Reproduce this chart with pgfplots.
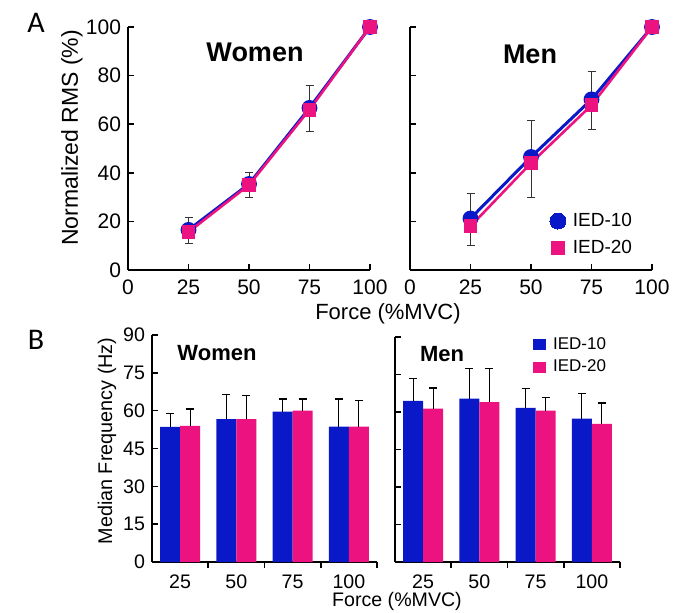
\documentclass[border=0pt]{standalone}
\usepackage{fontspec}
\setmainfont{Liberation Sans}
\newfontfamily\panelfont{Carlito}
\usepackage{pgfplots}
\pgfplotsset{compat=1.18}
\definecolor{iedblue}{RGB}{10,25,200}
\definecolor{iedpink}{RGB}{236,18,128}

\pgfplotsset{
  panel/.style={scale only axis, anchor=south west, axis lines=left,
    axis line style={-, line width=0.8pt}, tick style={black, line width=0.8pt},
    major tick length=3pt, minor tick length=3pt, tick align=inside,
    /pgf/number format/assume math mode=true, clip=false},
  ebar/.style={draw=none, mark=none, forget plot,
    error bars/.cd, y dir=both, y explicit,
    error bar style={line width=0.5pt, black!80},
    error mark options={rotate=90, mark size=2pt, line width=0.5pt, black!80}},
  bluel/.style={iedblue, line width=1.5pt, mark=*, mark size=3.2pt},
  pinkl/.style={iedpink, line width=1.3pt, mark=square*, mark size=2.8pt},
  barerr/.style={error bars/.cd, y dir=plus, y explicit,
    error bar style={line width=0.6pt, black},
    error mark options={rotate=90, mark size=2pt, line width=0.6pt, black}},
}

\begin{document}
\begin{tikzpicture}
\useasboundingbox (0pt,0pt) rectangle (343pt,306pt);

% ---- A: women
\begin{axis}[panel, at={(64pt,171pt)}, width=121pt, height=121.5pt,
  xmin=0, xmax=100, ymin=0, ymax=100,
  xtick={0,25,50,75,100}, ytick={0,20,...,100},
  xticklabel style={yshift=-1.5pt},
  tick label style={font=\fontsize{10.5}{12}\selectfont}]
\addplot[ebar] coordinates {(25,16.2) +- (0,5.2) (50,35) +- (0,5.3) (75,66.5) +- (0,9.5)};
\addplot[bluel] coordinates {(25,16.5) (50,35.4) (75,66.7) (100,100)};
\addplot[pinkl] coordinates {(25,15.6) (50,35) (75,66) (100,100)};
\end{axis}

% ---- A: men
\begin{axis}[panel, at={(205pt,171pt)}, width=121pt, height=121.5pt,
  xmin=0, xmax=100, ymin=0, ymax=100,
  xtick={0,25,50,75,100}, ytick={0,20,...,100}, yticklabels={},
  xticklabel style={yshift=-1.5pt},
  tick label style={font=\fontsize{10.5}{12}\selectfont},
  legend style={draw=none, fill=none, at={(0.575,0.245)}, anchor=north west,
    font=\fontsize{9.5}{11}\selectfont, row sep=3.5pt, inner sep=0pt,
    nodes={inner sep=1pt}},
  legend cell align=left,
  legend image code/.code={\draw[#1, line width=0pt] plot coordinates {(0.14cm,0cm)};
    \path (0cm,0cm) (0.36cm,0cm);}]
\addplot[ebar] coordinates {(25,20.8) +- (0,10.6) (50,45.7) +- (0,15.9) (75,69.8) +- (0,11.8)};
\addplot[bluel, forget plot] coordinates {(25,21.2) (50,46.5) (75,70.2) (100,100)};
\addplot[pinkl, forget plot] coordinates {(25,18) (50,44) (75,67.8) (100,100)};
\addlegendimage{iedblue, mark=*, mark size=4pt}
\addlegendentry{IED-10}
\addlegendimage{iedpink, mark=square*, mark size=3.2pt}
\addlegendentry{IED-20}
\end{axis}

% ---- B: women
\begin{axis}[panel, at={(76pt,25pt)}, width=112.5pt, height=113.5pt,
  xmin=0.5, xmax=4.5, ymin=0, ymax=90,
  ytick={0,15,...,90}, xtick={1,2,3,4}, xticklabels={25,50,75,100},
  major x tick style={draw=none}, minor xtick={1.5,2.5,3.5,4.5},
  ybar=0pt, bar width=10pt,
  tick label style={font=\fontsize{9.8}{11}\selectfont}]
\addplot[fill=iedblue, draw=none, barerr] coordinates {
  (1,53.6) +- (0,5.4) (2,56.7) +- (0,9.6) (3,59.6) +- (0,5.0) (4,53.7) +- (0,10.9)};
\addplot[fill=iedpink, draw=none, barerr] coordinates {
  (1,54.0) +- (0,6.7) (2,56.7) +- (0,9.2) (3,60.0) +- (0,4.6) (4,53.7) +- (0,10.3)};
\end{axis}

% ---- B: men
\begin{axis}[panel, at={(197.5pt,25pt)}, width=112.5pt, height=112.5pt,
  xmin=0.5, xmax=4.5, ymin=0, ymax=90,
  ytick={0,15,...,90}, yticklabels={}, xtick={1,2,3,4}, xticklabels={25,50,75,100},
  major x tick style={draw=none}, minor xtick={1.5,2.5,3.5,4.5},
  ybar=0pt, bar width=10pt,
  tick label style={font=\fontsize{9.8}{11}\selectfont},
  legend style={draw=none, fill=none, at={(0.612,1.01)}, anchor=north west,
    font=\fontsize{8.5}{10}\selectfont, row sep=2pt, inner sep=0pt,
    nodes={inner sep=1pt}},
  legend cell align=left,
  legend image code/.code={\fill[#1] (0cm,-2.75pt) rectangle (6.5pt,2.75pt);
    \path (0cm,0cm) (9pt,0cm);}]
\addplot[fill=iedblue, draw=none, barerr] coordinates {
  (1,64.5) +- (0,9.0) (2,65.4) +- (0,12.1) (3,61.7) +- (0,7.6) (4,57.4) +- (0,9.9)};
\addplot[fill=iedpink, draw=none, barerr] coordinates {
  (1,61.4) +- (0,8.2) (2,64.0) +- (0,13.3) (3,60.6) +- (0,5.3) (4,55.3) +- (0,8.3)};
\legend{IED-10, IED-20}
\end{axis}

% ---- labels and titles
\node[font=\panelfont\fontsize{15}{17}\selectfont] at (18pt,294.5pt) {A};
\node[font=\panelfont\fontsize{15}{17}\selectfont] at (18pt,136pt) {B};
\node[font=\bfseries\fontsize{13.5}{15}\selectfont] at (127.5pt,280pt) {Women};
\node[font=\bfseries\fontsize{13.5}{15}\selectfont] at (265pt,279pt) {Men};
\node[font=\bfseries\fontsize{11}{13}\selectfont] at (108.5pt,129.5pt) {Women};
\node[font=\bfseries\fontsize{11}{13}\selectfont] at (221pt,129pt) {Men};
\node[font=\fontsize{11.5}{13}\selectfont, rotate=90] at (36pt,237pt) {Normalized RMS (\%)};
\node[font=\fontsize{9.9}{12}\selectfont, rotate=90] at (53.5pt,85.5pt) {Median Frequency (Hz)};
\node[font=\fontsize{11}{13}\selectfont] at (194pt,149pt) {Force (\%MVC)};
\node[font=\fontsize{9.8}{12}\selectfont] at (198.5pt,5.5pt) {Force (\%MVC)};
\end{tikzpicture}
\end{document}
